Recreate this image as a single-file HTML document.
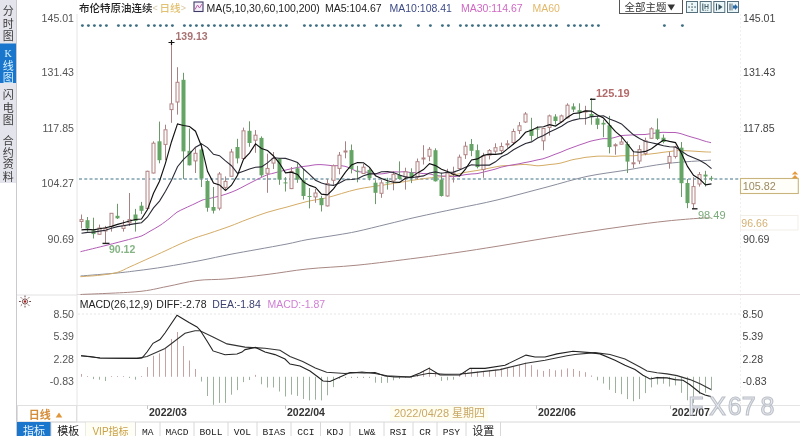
<!DOCTYPE html>
<html><head><meta charset="utf-8"><title>布伦特原油连续 日线</title>
<style>
html,body{margin:0;padding:0;background:#fff;}
body{width:800px;height:436px;overflow:hidden;}
svg{display:block;}
</style></head><body>
<svg width="800" height="436" viewBox="0 0 800 436" font-family='"Liberation Sans", "Noto Sans CJK SC", sans-serif'>
<rect x="0" y="0" width="800" height="436" fill="#ffffff"/>
<rect x="0" y="0" width="16.5" height="183" fill="#e4e4ec"/>
<rect x="0" y="43.5" width="16" height="39.5" fill="#1a76cc"/>
<line x1="16.5" y1="0" x2="16.5" y2="436" stroke="#c9c9cf" stroke-width="1"/>
<text x="8.2" y="15.3" font-size="11" fill="#3a3a3a" text-anchor="middle" font-family='"Liberation Sans", "Noto Sans CJK SC", sans-serif'>分</text>
<text x="8.2" y="27.6" font-size="11" fill="#3a3a3a" text-anchor="middle" font-family='"Liberation Sans", "Noto Sans CJK SC", sans-serif'>时</text>
<text x="8.2" y="39.6" font-size="11" fill="#3a3a3a" text-anchor="middle" font-family='"Liberation Sans", "Noto Sans CJK SC", sans-serif'>图</text>
<text x="8.2" y="56.6" font-size="10" fill="#d8f4ff" text-anchor="middle" font-family='"Liberation Serif", serif'>K</text>
<text x="8.2" y="69.6" font-size="11" fill="#d8f4ff" text-anchor="middle" font-family='"Liberation Sans", "Noto Sans CJK SC", sans-serif'>线</text>
<text x="8.2" y="81.6" font-size="11" fill="#d8f4ff" text-anchor="middle" font-family='"Liberation Sans", "Noto Sans CJK SC", sans-serif'>图</text>
<text x="8.2" y="99.4" font-size="11" fill="#3a3a3a" text-anchor="middle" font-family='"Liberation Sans", "Noto Sans CJK SC", sans-serif'>闪</text>
<text x="8.2" y="111.8" font-size="11" fill="#3a3a3a" text-anchor="middle" font-family='"Liberation Sans", "Noto Sans CJK SC", sans-serif'>电</text>
<text x="8.2" y="124.2" font-size="11" fill="#3a3a3a" text-anchor="middle" font-family='"Liberation Sans", "Noto Sans CJK SC", sans-serif'>图</text>
<text x="8.2" y="145" font-size="11" fill="#3a3a3a" text-anchor="middle" font-family='"Liberation Sans", "Noto Sans CJK SC", sans-serif'>合</text>
<text x="8.2" y="156.7" font-size="11" fill="#3a3a3a" text-anchor="middle" font-family='"Liberation Sans", "Noto Sans CJK SC", sans-serif'>约</text>
<text x="8.2" y="168.4" font-size="11" fill="#3a3a3a" text-anchor="middle" font-family='"Liberation Sans", "Noto Sans CJK SC", sans-serif'>资</text>
<text x="8.2" y="180.6" font-size="11" fill="#3a3a3a" text-anchor="middle" font-family='"Liberation Sans", "Noto Sans CJK SC", sans-serif'>料</text>
<line x1="77" y1="14" x2="77" y2="422" stroke="#e6e6e6" stroke-width="1"/>
<line x1="740.5" y1="14" x2="740.5" y2="405" stroke="#f0f0f0" stroke-width="1" stroke-dasharray="2,2"/>
<line x1="17" y1="295" x2="77" y2="295" stroke="#e2e2e2" stroke-width="1"/>
<line x1="77" y1="294.5" x2="800" y2="294.5" stroke="#e0dada" stroke-width="1"/>
<line x1="78" y1="314" x2="740" y2="314" stroke="#e6e6e6" stroke-width="1" stroke-dasharray="2,2"/>
<line x1="17" y1="405.5" x2="800" y2="405.5" stroke="#e4e4e4" stroke-width="1"/>
<text x="79" y="11.8" font-size="10.5" font-weight="500" fill="#222" font-family='"Liberation Sans", "Noto Sans CJK SC", sans-serif'>布伦特原油连续</text>
<text x="152.5" y="11.3" font-size="9" fill="#d8c8a0" font-family='"Liberation Sans", "Noto Sans CJK SC", sans-serif'>&lt;</text>
<text x="159.5" y="11.8" font-size="10.5" font-weight="500" fill="#e2c272" font-family='"Liberation Sans", "Noto Sans CJK SC", sans-serif'>日线</text>
<text x="180.8" y="11.3" font-size="9" fill="#d8c8a0" font-family='"Liberation Sans", "Noto Sans CJK SC", sans-serif'>&gt;</text>
<rect x="194" y="2" width="9" height="9.5" fill="#f4eef8" stroke="#3e3a66" stroke-width="1.1"/>
<polyline points="195,9.5 197.5,5 199.5,8 202,4" fill="none" stroke="#c060a8" stroke-width="1"/>
<text x="206.5" y="11.6" font-size="10.5" fill="#222" font-family='"Liberation Sans", "Noto Sans CJK SC", sans-serif'>MA(5,10,30,60,100,200)</text>
<text x="325" y="11.6" font-size="10.5" fill="#222" font-family='"Liberation Sans", "Noto Sans CJK SC", sans-serif'>MA5:104.67</text>
<text x="389.5" y="11.6" font-size="10.5" fill="#3c4a86" font-family='"Liberation Sans", "Noto Sans CJK SC", sans-serif'>MA10:108.41</text>
<text x="461" y="11.6" font-size="10.5" fill="#d068c4" font-family='"Liberation Sans", "Noto Sans CJK SC", sans-serif'>MA30:114.67</text>
<text x="532.5" y="11.6" font-size="10.5" fill="#e2b86a" font-family='"Liberation Sans", "Noto Sans CJK SC", sans-serif'>MA60</text>
<rect x="619.5" y="-0.5" width="63" height="14" fill="#fff" stroke="#555" stroke-width="1"/>
<text x="624.5" y="11.3" font-size="10.5" fill="#333" font-family='"Liberation Sans", "Noto Sans CJK SC", sans-serif'>全部主题</text>
<polygon points="667.5,4.5 675,4.5 671.25,10.5" fill="#333"/>
<rect x="686.5" y="1.5" width="11" height="11" fill="#eaf6f8" stroke="#55707c" stroke-width="1"/>
<rect x="700.2" y="1.5" width="11" height="11" fill="#eaf6f8" stroke="#55707c" stroke-width="1"/>
<rect x="713.8" y="1.5" width="11" height="11" fill="#eaf6f8" stroke="#55707c" stroke-width="1"/>
<rect x="727.5" y="1.5" width="11" height="11" fill="#eaf6f8" stroke="#55707c" stroke-width="1"/>
<rect x="691.4" y="3.4" width="1.3" height="1.3" fill="#3a4a55"/>
<rect x="691.4" y="9.4" width="1.3" height="1.3" fill="#3a4a55"/>
<rect x="688.4" y="6.4" width="1.3" height="1.3" fill="#3a4a55"/>
<rect x="694.4" y="6.4" width="1.3" height="1.3" fill="#3a4a55"/>
<rect x="691.4" y="6.4" width="1.3" height="1.3" fill="#3a4a55"/>
<line x1="702.8" y1="3.5" x2="702.8" y2="10.5" stroke="#3a5560" stroke-width="1"/>
<path d="M705,4 v5 M708,4 v5 M705,6.5 h3" stroke="#3a5560" stroke-width="0.9" fill="none"/>
<line x1="702.8" y1="10.3" x2="709" y2="10.3" stroke="#3a5560" stroke-width="0.8" stroke-dasharray="1,1"/>
<line x1="716.5" y1="3.5" x2="716.5" y2="10.5" stroke="#3a5560" stroke-width="1"/>
<polygon points="718.5,4 722.5,7 718.5,10" fill="#3a5560"/>
<line x1="730" y1="3.5" x2="730" y2="10.5" stroke="#3a5560" stroke-width="1"/>
<line x1="732" y1="3.5" x2="732" y2="10.5" stroke="#3a5560" stroke-width="0.8"/>
<polygon points="733,5.5 735,5.5 735,4 738,7 735,10 735,8.5 733,8.5" fill="#2a6aa8"/>
<text x="74" y="21.5" font-size="10.6" fill="#555" text-anchor="end">145.01</text>
<text x="74" y="76.4" font-size="10.6" fill="#555" text-anchor="end">131.43</text>
<text x="74" y="131.8" font-size="10.6" fill="#555" text-anchor="end">117.85</text>
<text x="74" y="187.1" font-size="10.6" fill="#555" text-anchor="end">104.27</text>
<text x="74" y="242.6" font-size="10.6" fill="#555" text-anchor="end">90.69</text>
<text x="743" y="21.5" font-size="10.6" fill="#444">145.01</text>
<text x="743" y="76.4" font-size="10.6" fill="#444">131.43</text>
<text x="743" y="131.8" font-size="10.6" fill="#444">117.85</text>
<text x="743" y="242.6" font-size="10.6" fill="#444">90.69</text>
<text x="74" y="317.8" font-size="10.6" fill="#555" text-anchor="end">8.50</text>
<text x="742.5" y="317.8" font-size="10.6" fill="#444">8.50</text>
<text x="74" y="340.2" font-size="10.6" fill="#555" text-anchor="end">5.39</text>
<text x="742.5" y="340.2" font-size="10.6" fill="#444">5.39</text>
<text x="74" y="362.7" font-size="10.6" fill="#555" text-anchor="end">2.28</text>
<text x="742.5" y="362.7" font-size="10.6" fill="#444">2.28</text>
<text x="74" y="385.3" font-size="10.6" fill="#555" text-anchor="end">-0.83</text>
<text x="742.5" y="385.3" font-size="10.6" fill="#444">-0.83</text>
<line x1="79" y1="179" x2="740" y2="179" stroke="#7fa3b0" stroke-width="1.7" stroke-dasharray="3,2.25"/>
<rect x="740.5" y="178.5" width="57.8" height="15" fill="#fffef8" stroke="#c8b47c" stroke-width="1.1"/>
<text x="742.8" y="190" font-size="10.8" fill="#9c8a62">105.82</text>
<path d="M791.8,174.5 l3.2,-3.2 l3.2,3.2 z M791.8,178.2 l3.2,-3.2 l3.2,3.2 z" fill="#e49a3a"/>
<rect x="740.5" y="215.5" width="57.5" height="14.5" fill="#fff" stroke="#f2efe8" stroke-width="1"/>
<text x="741.3" y="226.8" font-size="10.6" fill="#d4b274">96.66</text>
<circle cx="82.4" cy="25.6" r="1.45" fill="#3f6f82"/>
<circle cx="88.4" cy="25.6" r="1.45" fill="#3f6f82"/>
<circle cx="94.4" cy="25.6" r="1.45" fill="#3f6f82"/>
<circle cx="100.4" cy="25.6" r="1.45" fill="#3f6f82"/>
<circle cx="106.4" cy="25.6" r="1.45" fill="#3f6f82"/>
<circle cx="118.4" cy="25.6" r="1.45" fill="#3f6f82"/>
<circle cx="124.4" cy="25.6" r="1.45" fill="#3f6f82"/>
<circle cx="130.4" cy="25.6" r="1.45" fill="#3f6f82"/>
<circle cx="136.4" cy="25.6" r="1.45" fill="#3f6f82"/>
<circle cx="148.4" cy="25.6" r="1.45" fill="#3f6f82"/>
<circle cx="154.4" cy="25.6" r="1.45" fill="#3f6f82"/>
<circle cx="160.4" cy="25.6" r="1.45" fill="#3f6f82"/>
<circle cx="166.4" cy="25.6" r="1.45" fill="#3f6f82"/>
<circle cx="172.4" cy="25.6" r="1.45" fill="#3f6f82"/>
<circle cx="184.4" cy="25.6" r="1.45" fill="#3f6f82"/>
<circle cx="190.4" cy="25.6" r="1.45" fill="#3f6f82"/>
<circle cx="196.4" cy="25.6" r="1.45" fill="#3f6f82"/>
<circle cx="202.4" cy="25.6" r="1.45" fill="#3f6f82"/>
<circle cx="208.4" cy="25.6" r="1.45" fill="#3f6f82"/>
<circle cx="214.4" cy="25.6" r="1.45" fill="#3f6f82"/>
<circle cx="220.4" cy="25.6" r="1.45" fill="#3f6f82"/>
<circle cx="226.4" cy="25.6" r="1.45" fill="#3f6f82"/>
<circle cx="232.4" cy="25.6" r="1.45" fill="#3f6f82"/>
<circle cx="238.4" cy="25.6" r="1.45" fill="#3f6f82"/>
<circle cx="244.4" cy="25.6" r="1.45" fill="#3f6f82"/>
<circle cx="250.4" cy="25.6" r="1.45" fill="#3f6f82"/>
<circle cx="256.4" cy="25.6" r="1.45" fill="#3f6f82"/>
<circle cx="262.4" cy="25.6" r="1.45" fill="#3f6f82"/>
<circle cx="268.4" cy="25.6" r="1.45" fill="#3f6f82"/>
<circle cx="274.4" cy="25.6" r="1.45" fill="#3f6f82"/>
<circle cx="280.4" cy="25.6" r="1.45" fill="#3f6f82"/>
<circle cx="286.4" cy="25.6" r="1.45" fill="#3f6f82"/>
<circle cx="304.4" cy="25.6" r="1.45" fill="#3f6f82"/>
<circle cx="310.4" cy="25.6" r="1.45" fill="#3f6f82"/>
<circle cx="316.4" cy="25.6" r="1.45" fill="#3f6f82"/>
<circle cx="322.4" cy="25.6" r="1.45" fill="#3f6f82"/>
<circle cx="328.4" cy="25.6" r="1.45" fill="#3f6f82"/>
<circle cx="334.4" cy="25.6" r="1.45" fill="#3f6f82"/>
<circle cx="340.4" cy="25.6" r="1.45" fill="#3f6f82"/>
<circle cx="346.4" cy="25.6" r="1.45" fill="#3f6f82"/>
<circle cx="352.4" cy="25.6" r="1.45" fill="#3f6f82"/>
<circle cx="358.4" cy="25.6" r="1.45" fill="#3f6f82"/>
<circle cx="364.4" cy="25.6" r="1.45" fill="#3f6f82"/>
<circle cx="376.4" cy="25.6" r="1.45" fill="#3f6f82"/>
<circle cx="382.4" cy="25.6" r="1.45" fill="#3f6f82"/>
<circle cx="388.4" cy="25.6" r="1.45" fill="#3f6f82"/>
<circle cx="394.4" cy="25.6" r="1.45" fill="#3f6f82"/>
<circle cx="400.4" cy="25.6" r="1.45" fill="#3f6f82"/>
<circle cx="418.4" cy="25.6" r="1.45" fill="#3f6f82"/>
<circle cx="430.4" cy="25.6" r="1.45" fill="#3f6f82"/>
<circle cx="442.4" cy="25.6" r="1.45" fill="#3f6f82"/>
<circle cx="448.4" cy="25.6" r="1.45" fill="#3f6f82"/>
<circle cx="460.4" cy="25.6" r="1.45" fill="#3f6f82"/>
<circle cx="466.4" cy="25.6" r="1.45" fill="#3f6f82"/>
<circle cx="472.4" cy="25.6" r="1.45" fill="#3f6f82"/>
<circle cx="478.4" cy="25.6" r="1.45" fill="#3f6f82"/>
<circle cx="484.4" cy="25.6" r="1.45" fill="#3f6f82"/>
<circle cx="490.4" cy="25.6" r="1.45" fill="#3f6f82"/>
<circle cx="496.4" cy="25.6" r="1.45" fill="#3f6f82"/>
<circle cx="502.4" cy="25.6" r="1.45" fill="#3f6f82"/>
<circle cx="508.4" cy="25.6" r="1.45" fill="#3f6f82"/>
<circle cx="514.4" cy="25.6" r="1.45" fill="#3f6f82"/>
<circle cx="520.4" cy="25.6" r="1.45" fill="#3f6f82"/>
<circle cx="526.4" cy="25.6" r="1.45" fill="#3f6f82"/>
<circle cx="532.4" cy="25.6" r="1.45" fill="#3f6f82"/>
<circle cx="538.4" cy="25.6" r="1.45" fill="#3f6f82"/>
<circle cx="544.4" cy="25.6" r="1.45" fill="#3f6f82"/>
<circle cx="550.4" cy="25.6" r="1.45" fill="#3f6f82"/>
<circle cx="556.4" cy="25.6" r="1.45" fill="#3f6f82"/>
<circle cx="568.4" cy="25.6" r="1.45" fill="#3f6f82"/>
<circle cx="574.4" cy="25.6" r="1.45" fill="#3f6f82"/>
<circle cx="580.4" cy="25.6" r="1.45" fill="#3f6f82"/>
<circle cx="586.4" cy="25.6" r="1.45" fill="#3f6f82"/>
<circle cx="592.4" cy="25.6" r="1.45" fill="#3f6f82"/>
<circle cx="598.4" cy="25.6" r="1.45" fill="#3f6f82"/>
<circle cx="664.4" cy="25.6" r="1.45" fill="#3f6f82"/>
<circle cx="682.4" cy="25.6" r="1.45" fill="#3f6f82"/>
<path d="M80.5,294.5 C89.9,294.0 122.6,293.0 137.0,291.7 C151.4,290.4 157.0,288.4 167.0,286.5 C177.0,284.6 187.0,281.8 197.0,280.5 C207.0,279.2 215.3,279.9 227.0,278.9 C238.7,277.9 253.7,276.1 267.0,274.5 C280.3,272.9 292.0,270.6 307.0,269.0 C322.0,267.4 338.7,267.0 357.0,265.2 C375.3,263.4 400.3,260.1 417.0,258.0 C433.7,255.9 443.7,254.4 457.0,252.5 C470.3,250.6 482.0,248.7 497.0,246.3 C512.0,243.9 532.0,240.4 547.0,238.0 C562.0,235.6 573.7,233.8 587.0,231.8 C600.3,229.8 613.7,227.8 627.0,226.0 C640.3,224.2 654.8,222.3 667.0,221.0 C679.2,219.7 692.7,218.7 700.0,218.2 C707.3,217.7 709.2,217.9 711.0,217.8" fill="none" stroke="#a88884" stroke-width="1"/>
<path d="M80.5,276.0 C86.6,275.5 107.6,273.9 117.0,273.0 C126.4,272.1 129.0,271.7 137.0,270.7 C145.0,269.7 154.5,268.5 165.0,266.8 C175.5,265.1 189.2,262.7 200.0,260.6 C210.8,258.5 220.5,256.2 230.0,254.4 C239.5,252.6 247.5,251.2 257.0,249.5 C266.5,247.8 278.7,245.6 287.0,244.0 C295.3,242.4 298.7,241.2 307.0,239.7 C315.3,238.2 328.7,236.4 337.0,235.0 C345.3,233.6 348.7,233.2 357.0,231.4 C365.3,229.6 377.0,226.6 387.0,224.2 C397.0,221.8 405.3,219.6 417.0,217.0 C428.7,214.4 443.7,211.3 457.0,208.5 C470.3,205.7 482.0,203.6 497.0,200.0 C512.0,196.4 532.0,190.9 547.0,187.0 C562.0,183.1 573.7,179.2 587.0,176.4 C600.3,173.6 613.7,172.2 627.0,170.0 C640.3,167.8 653.0,165.2 667.0,163.5 C681.0,161.8 703.7,160.7 711.0,160.1" fill="none" stroke="#8a8e9c" stroke-width="1"/>
<path d="M80.5,276.7 C83.8,276.4 93.9,275.9 100.0,275.2 C106.1,274.5 112.0,273.9 117.0,272.5 C122.0,271.1 124.5,269.2 130.0,266.8 C135.5,264.4 144.2,260.4 150.0,257.8 C155.8,255.2 160.0,253.3 165.0,251.0 C170.0,248.7 175.0,246.2 180.0,244.0 C185.0,241.8 190.0,239.7 195.0,237.9 C200.0,236.1 204.2,235.1 210.0,233.1 C215.8,231.1 223.8,228.5 230.0,226.2 C236.2,223.9 240.8,221.8 247.0,219.5 C253.2,217.2 260.3,214.5 267.0,212.4 C273.7,210.3 280.3,208.8 287.0,207.0 C293.7,205.2 300.3,203.1 307.0,201.5 C313.7,199.9 318.7,199.7 327.0,197.7 C335.3,195.7 347.0,191.5 357.0,189.3 C367.0,187.1 377.0,186.1 387.0,184.5 C397.0,182.9 409.0,180.8 417.0,179.6 C425.0,178.4 431.0,177.8 435.0,177.3 C439.0,176.9 439.0,177.1 441.0,176.9 C443.0,176.7 445.0,176.3 447.0,176.0 C449.0,175.7 451.0,175.3 453.0,175.0 C455.0,174.6 457.0,174.2 459.0,173.8 C461.0,173.4 463.0,172.8 465.0,172.4 C467.0,172.0 469.0,171.7 471.0,171.4 C473.0,171.1 475.0,170.9 477.0,170.5 C479.0,170.2 481.0,169.8 483.0,169.4 C485.0,169.0 487.0,168.6 489.0,168.2 C491.0,167.8 493.0,167.4 495.0,167.0 C497.0,166.6 499.0,166.2 501.0,165.9 C503.0,165.7 505.0,165.6 507.0,165.5 C509.0,165.4 511.0,165.4 513.0,165.3 C515.0,165.2 517.0,164.8 519.0,164.7 C521.0,164.6 523.0,164.4 525.0,164.4 C527.0,164.5 529.0,164.8 531.0,165.0 C533.0,165.2 535.0,165.7 537.0,165.8 C539.0,165.8 541.0,165.6 543.0,165.4 C545.0,165.2 547.0,164.8 549.0,164.6 C551.0,164.3 553.0,164.3 555.0,164.0 C557.0,163.8 559.0,163.4 561.0,163.0 C563.0,162.5 565.0,161.8 567.0,161.3 C569.0,160.7 571.0,160.0 573.0,159.6 C575.0,159.1 577.0,158.9 579.0,158.6 C581.0,158.2 583.0,157.7 585.0,157.4 C587.0,157.1 589.0,157.0 591.0,156.8 C593.0,156.6 595.0,156.4 597.0,156.2 C599.0,156.1 601.0,156.1 603.0,156.1 C605.0,156.1 607.0,156.2 609.0,156.2 C611.0,156.2 613.0,156.4 615.0,156.4 C617.0,156.3 619.0,155.9 621.0,155.8 C623.0,155.7 625.0,155.7 627.0,155.7 C629.0,155.7 631.0,155.8 633.0,155.8 C635.0,155.7 637.0,155.5 639.0,155.3 C641.0,155.1 643.0,154.8 645.0,154.6 C647.0,154.3 649.0,154.1 651.0,153.9 C653.0,153.6 655.0,153.4 657.0,153.2 C659.0,152.9 661.0,152.5 663.0,152.3 C665.0,152.0 667.0,151.8 669.0,151.6 C671.0,151.4 673.0,151.0 675.0,150.8 C677.0,150.7 679.0,150.5 681.0,150.5 C683.0,150.5 685.0,150.7 687.0,150.8 C689.0,150.9 691.0,151.0 693.0,151.1 C695.0,151.3 697.0,151.3 699.0,151.5 C701.0,151.6 703.0,151.8 705.0,151.9 C707.0,152.0 710.0,152.0 711.0,152.1" fill="none" stroke="#d4ac66" stroke-width="1"/>
<path d="M80.5,251.7 C84.9,250.6 99.2,247.1 107.0,245.2 C114.8,243.2 122.3,241.2 127.0,240.0 C131.7,238.8 132.5,238.5 135.0,237.8 C137.5,237.1 139.5,236.9 142.0,235.8 C144.5,234.7 147.0,232.9 150.0,231.2 C153.0,229.5 156.7,227.6 160.0,225.4 C163.3,223.2 167.2,220.2 170.0,218.0 C172.8,215.8 174.5,213.8 177.0,212.2 C179.5,210.6 182.0,209.6 185.0,208.2 C188.0,206.8 192.2,204.9 195.0,203.6 C197.8,202.3 200.0,201.0 202.0,200.2 C204.0,199.4 204.5,199.6 207.0,199.0 C209.5,198.4 213.7,197.6 217.0,196.7 C220.3,195.8 223.7,195.0 227.0,193.8 C230.3,192.7 233.7,191.3 237.0,189.8 C240.3,188.3 243.7,186.3 247.0,184.6 C250.3,182.9 253.7,181.1 257.0,179.5 C260.3,177.9 264.3,175.9 267.0,174.9 C269.7,173.9 271.0,173.8 273.0,173.3 C275.0,172.8 277.0,172.2 279.0,171.7 C281.0,171.2 283.0,170.7 285.0,170.2 C287.0,169.7 289.0,169.2 291.0,168.8 C293.0,168.3 295.0,167.9 297.0,167.5 C299.0,167.1 301.0,166.8 303.0,166.5 C305.0,166.2 307.0,166.0 309.0,165.8 C311.0,165.5 313.0,165.0 315.0,164.8 C317.0,164.6 319.0,164.6 321.0,164.6 C323.0,164.7 325.0,164.9 327.0,165.1 C329.0,165.2 331.0,165.7 333.0,165.8 C335.0,165.9 337.0,165.5 339.0,165.6 C341.0,165.7 343.0,165.9 345.0,166.3 C347.0,166.8 349.0,167.7 351.0,168.5 C353.0,169.4 355.0,170.9 357.0,171.5 C359.0,172.1 361.0,171.8 363.0,172.0 C365.0,172.2 367.0,172.1 369.0,172.4 C371.0,172.7 373.0,173.5 375.0,173.8 C377.0,174.0 379.0,174.0 381.0,173.9 C383.0,173.8 385.0,173.4 387.0,173.1 C389.0,172.7 391.0,172.0 393.0,171.9 C395.0,171.7 397.0,172.0 399.0,172.0 C401.0,172.0 403.0,171.6 405.0,171.7 C407.0,171.8 409.0,172.4 411.0,172.6 C413.0,172.7 415.0,172.5 417.0,172.7 C419.0,172.8 421.0,173.4 423.0,173.6 C425.0,173.8 427.0,173.5 429.0,173.8 C431.0,174.1 433.0,174.9 435.0,175.3 C437.0,175.7 439.0,175.9 441.0,176.0 C443.0,176.1 445.0,176.1 447.0,176.2 C449.0,176.3 451.0,176.7 453.0,176.7 C455.0,176.6 457.0,176.2 459.0,175.9 C461.0,175.6 463.0,175.0 465.0,174.7 C467.0,174.4 469.0,174.2 471.0,174.0 C473.0,173.8 475.0,173.9 477.0,173.6 C479.0,173.3 481.0,172.7 483.0,172.2 C485.0,171.8 487.0,171.2 489.0,170.7 C491.0,170.2 493.0,169.8 495.0,169.2 C497.0,168.6 499.0,167.8 501.0,167.2 C503.0,166.7 505.0,166.3 507.0,165.9 C509.0,165.5 511.0,165.1 513.0,164.8 C515.0,164.4 517.0,164.1 519.0,163.8 C521.0,163.4 523.0,162.9 525.0,162.5 C527.0,162.2 529.0,161.9 531.0,161.4 C533.0,161.0 535.0,160.5 537.0,160.0 C539.0,159.6 541.0,159.3 543.0,158.8 C545.0,158.2 547.0,157.4 549.0,156.7 C551.0,155.9 553.0,155.1 555.0,154.3 C557.0,153.5 559.0,152.9 561.0,152.1 C563.0,151.2 565.0,150.3 567.0,149.5 C569.0,148.7 571.0,148.0 573.0,147.3 C575.0,146.6 577.0,145.8 579.0,145.1 C581.0,144.4 583.0,143.7 585.0,143.1 C587.0,142.4 589.0,141.6 591.0,141.1 C593.0,140.5 595.0,140.2 597.0,139.8 C599.0,139.4 601.0,138.9 603.0,138.7 C605.0,138.5 607.0,138.9 609.0,138.6 C611.0,138.4 613.0,137.9 615.0,137.4 C617.0,136.9 619.0,136.0 621.0,135.6 C623.0,135.3 625.0,135.4 627.0,135.2 C629.0,135.1 631.0,135.0 633.0,134.9 C635.0,134.8 637.0,134.7 639.0,134.6 C641.0,134.6 643.0,134.6 645.0,134.5 C647.0,134.3 649.0,134.0 651.0,133.7 C653.0,133.5 655.0,133.0 657.0,132.8 C659.0,132.6 661.0,132.4 663.0,132.3 C665.0,132.3 667.0,132.5 669.0,132.5 C671.0,132.6 673.0,132.3 675.0,132.5 C677.0,132.7 679.0,133.2 681.0,133.7 C683.0,134.3 685.0,135.1 687.0,135.7 C689.0,136.3 691.0,137.0 693.0,137.5 C695.0,138.1 697.0,138.5 699.0,139.2 C701.0,139.8 703.0,140.7 705.0,141.2 C707.0,141.8 710.0,142.4 711.0,142.7" fill="none" stroke="#b25cb6" stroke-width="1"/>
<line x1="81.5" y1="214.5" x2="81.5" y2="219.6" stroke="#a88282" stroke-width="1"/>
<line x1="81.5" y1="221.5" x2="81.5" y2="228.4" stroke="#a88282" stroke-width="1"/>
<rect x="80" y="219.6" width="3" height="1.9" fill="#fffafa" stroke="#b08282" stroke-width="1"/>
<line x1="87.5" y1="217.0" x2="87.5" y2="231.6" stroke="#6a9a6a" stroke-width="1"/>
<rect x="85.5" y="220.2" width="4" height="8.2" fill="#64a464"/>
<line x1="93.5" y1="217.7" x2="93.5" y2="238.5" stroke="#6a9a6a" stroke-width="1"/>
<rect x="91.5" y="230.3" width="4" height="3.8" fill="#64a464"/>
<line x1="99.5" y1="224.6" x2="99.5" y2="228.0" stroke="#a88282" stroke-width="1"/>
<line x1="99.5" y1="234.3" x2="99.5" y2="234.7" stroke="#a88282" stroke-width="1"/>
<rect x="98" y="228.0" width="3" height="6.3" fill="#fffafa" stroke="#b08282" stroke-width="1"/>
<line x1="105.5" y1="225.9" x2="105.5" y2="228.4" stroke="#a88282" stroke-width="1"/>
<line x1="105.5" y1="231.0" x2="105.5" y2="243.5" stroke="#a88282" stroke-width="1"/>
<rect x="104" y="228.4" width="3" height="2.6" fill="#fffafa" stroke="#b08282" stroke-width="1"/>
<line x1="111.5" y1="213.3" x2="111.5" y2="213.3" stroke="#a88282" stroke-width="1"/>
<line x1="111.5" y1="226.5" x2="111.5" y2="231.6" stroke="#a88282" stroke-width="1"/>
<rect x="110" y="213.3" width="3" height="13.2" fill="#fffafa" stroke="#b08282" stroke-width="1"/>
<line x1="117.5" y1="203.8" x2="117.5" y2="219.0" stroke="#6a9a6a" stroke-width="1"/>
<rect x="115.5" y="215.8" width="4" height="2.5" fill="#64a464"/>
<line x1="123.5" y1="220.2" x2="123.5" y2="225.3" stroke="#a88282" stroke-width="1"/>
<line x1="123.5" y1="228.4" x2="123.5" y2="231.6" stroke="#a88282" stroke-width="1"/>
<rect x="122" y="225.3" width="3" height="3.1" fill="#fffafa" stroke="#b08282" stroke-width="1"/>
<line x1="129.5" y1="193.0" x2="129.5" y2="219.6" stroke="#a88282" stroke-width="1"/>
<line x1="129.5" y1="222.7" x2="129.5" y2="226.0" stroke="#a88282" stroke-width="1"/>
<rect x="128" y="219.6" width="3" height="3.1" fill="#fffafa" stroke="#b08282" stroke-width="1"/>
<line x1="135.5" y1="208.9" x2="135.5" y2="231.6" stroke="#6a9a6a" stroke-width="1"/>
<rect x="133.5" y="214.5" width="4" height="6.4" fill="#64a464"/>
<line x1="141.5" y1="201.9" x2="141.5" y2="213.9" stroke="#6a9a6a" stroke-width="1"/>
<rect x="139.5" y="205.7" width="4" height="5.1" fill="#64a464"/>
<line x1="147.5" y1="170.7" x2="147.5" y2="171.3" stroke="#a88282" stroke-width="1"/>
<line x1="147.5" y1="208.5" x2="147.5" y2="209.2" stroke="#a88282" stroke-width="1"/>
<rect x="146" y="171.3" width="3" height="37.2" fill="#fffafa" stroke="#b08282" stroke-width="1"/>
<line x1="153.5" y1="141.3" x2="153.5" y2="143.2" stroke="#a88282" stroke-width="1"/>
<line x1="153.5" y1="173.0" x2="153.5" y2="173.4" stroke="#a88282" stroke-width="1"/>
<rect x="152" y="143.2" width="3" height="29.8" fill="#fffafa" stroke="#b08282" stroke-width="1"/>
<line x1="159.5" y1="121.6" x2="159.5" y2="163.3" stroke="#6a9a6a" stroke-width="1"/>
<rect x="157.5" y="141.3" width="4" height="18.9" fill="#64a464"/>
<line x1="165.5" y1="124.7" x2="165.5" y2="129.8" stroke="#a88282" stroke-width="1"/>
<line x1="165.5" y1="144.4" x2="165.5" y2="160.2" stroke="#a88282" stroke-width="1"/>
<rect x="164" y="129.8" width="3" height="14.6" fill="#fffafa" stroke="#b08282" stroke-width="1"/>
<line x1="171.5" y1="42.3" x2="171.5" y2="103.9" stroke="#a88282" stroke-width="1"/>
<line x1="171.5" y1="109.6" x2="171.5" y2="122.8" stroke="#a88282" stroke-width="1"/>
<rect x="170" y="103.9" width="3" height="5.7" fill="#fffafa" stroke="#b08282" stroke-width="1"/>
<line x1="177.5" y1="67.2" x2="177.5" y2="82.3" stroke="#a88282" stroke-width="1"/>
<line x1="177.5" y1="102.0" x2="177.5" y2="114.6" stroke="#a88282" stroke-width="1"/>
<rect x="176" y="82.3" width="3" height="19.7" fill="#fffafa" stroke="#b08282" stroke-width="1"/>
<line x1="183.5" y1="72.8" x2="183.5" y2="178.9" stroke="#6a9a6a" stroke-width="1"/>
<rect x="181.5" y="79.8" width="4" height="71.6" fill="#64a464"/>
<line x1="189.5" y1="128.5" x2="189.5" y2="165.5" stroke="#6a9a6a" stroke-width="1"/>
<rect x="187.5" y="150.8" width="4" height="14.5" fill="#64a464"/>
<line x1="195.5" y1="147.7" x2="195.5" y2="153.3" stroke="#a88282" stroke-width="1"/>
<line x1="195.5" y1="160.9" x2="195.5" y2="173.0" stroke="#a88282" stroke-width="1"/>
<rect x="194" y="153.3" width="3" height="7.6" fill="#fffafa" stroke="#b08282" stroke-width="1"/>
<line x1="201.5" y1="143.2" x2="201.5" y2="187.0" stroke="#6a9a6a" stroke-width="1"/>
<rect x="199.5" y="149.5" width="4" height="29.0" fill="#64a464"/>
<line x1="207.5" y1="180.0" x2="207.5" y2="211.7" stroke="#6a9a6a" stroke-width="1"/>
<rect x="205.5" y="181.0" width="4" height="26.8" fill="#64a464"/>
<line x1="213.5" y1="187.0" x2="213.5" y2="213.5" stroke="#6a9a6a" stroke-width="1"/>
<rect x="211.5" y="207.0" width="4" height="3.7" fill="#64a464"/>
<line x1="219.5" y1="172.0" x2="219.5" y2="174.0" stroke="#a88282" stroke-width="1"/>
<line x1="219.5" y1="208.2" x2="219.5" y2="210.4" stroke="#a88282" stroke-width="1"/>
<rect x="218" y="174.0" width="3" height="34.2" fill="#fffafa" stroke="#b08282" stroke-width="1"/>
<line x1="225.5" y1="176.4" x2="225.5" y2="181.4" stroke="#a88282" stroke-width="1"/>
<line x1="225.5" y1="187.4" x2="225.5" y2="189.6" stroke="#a88282" stroke-width="1"/>
<rect x="224" y="181.4" width="3" height="6.0" fill="#fffafa" stroke="#b08282" stroke-width="1"/>
<line x1="231.5" y1="148.9" x2="231.5" y2="152.0" stroke="#a88282" stroke-width="1"/>
<line x1="231.5" y1="176.3" x2="231.5" y2="176.4" stroke="#a88282" stroke-width="1"/>
<rect x="230" y="152.0" width="3" height="24.3" fill="#fffafa" stroke="#b08282" stroke-width="1"/>
<line x1="237.5" y1="138.8" x2="237.5" y2="163.4" stroke="#6a9a6a" stroke-width="1"/>
<rect x="235.5" y="147.0" width="4" height="11.4" fill="#64a464"/>
<line x1="243.5" y1="127.6" x2="243.5" y2="130.8" stroke="#a88282" stroke-width="1"/>
<line x1="243.5" y1="158.5" x2="243.5" y2="158.5" stroke="#a88282" stroke-width="1"/>
<rect x="242" y="130.8" width="3" height="27.7" fill="#fffafa" stroke="#b08282" stroke-width="1"/>
<line x1="249.5" y1="121.3" x2="249.5" y2="146.8" stroke="#6a9a6a" stroke-width="1"/>
<rect x="247.5" y="130.8" width="4" height="12.2" fill="#64a464"/>
<line x1="255.5" y1="130.1" x2="255.5" y2="135.2" stroke="#a88282" stroke-width="1"/>
<line x1="255.5" y1="140.2" x2="255.5" y2="152.8" stroke="#a88282" stroke-width="1"/>
<rect x="254" y="135.2" width="3" height="5.0" fill="#fffafa" stroke="#b08282" stroke-width="1"/>
<line x1="261.5" y1="136.4" x2="261.5" y2="177.0" stroke="#6a9a6a" stroke-width="1"/>
<rect x="259.5" y="137.9" width="4" height="37.4" fill="#64a464"/>
<line x1="267.5" y1="153.7" x2="267.5" y2="168.4" stroke="#a88282" stroke-width="1"/>
<line x1="267.5" y1="173.3" x2="267.5" y2="192.8" stroke="#a88282" stroke-width="1"/>
<rect x="266" y="168.4" width="3" height="4.9" fill="#fffafa" stroke="#b08282" stroke-width="1"/>
<line x1="273.5" y1="152.0" x2="273.5" y2="158.3" stroke="#a88282" stroke-width="1"/>
<line x1="273.5" y1="163.1" x2="273.5" y2="169.0" stroke="#a88282" stroke-width="1"/>
<rect x="272" y="158.3" width="3" height="4.8" fill="#fffafa" stroke="#b08282" stroke-width="1"/>
<line x1="279.5" y1="158.2" x2="279.5" y2="184.8" stroke="#6a9a6a" stroke-width="1"/>
<rect x="277.5" y="158.5" width="4" height="21.0" fill="#64a464"/>
<line x1="285.5" y1="177.1" x2="285.5" y2="191.5" stroke="#6a9a6a" stroke-width="1"/>
<rect x="283.5" y="182.4" width="4" height="1.0" fill="#64a464"/>
<line x1="291.5" y1="167.0" x2="291.5" y2="171.4" stroke="#a88282" stroke-width="1"/>
<line x1="291.5" y1="188.6" x2="291.5" y2="189.1" stroke="#a88282" stroke-width="1"/>
<rect x="290" y="171.4" width="3" height="17.2" fill="#fffafa" stroke="#b08282" stroke-width="1"/>
<line x1="297.5" y1="163.2" x2="297.5" y2="182.8" stroke="#6a9a6a" stroke-width="1"/>
<rect x="295.5" y="168.3" width="4" height="11.3" fill="#64a464"/>
<line x1="303.5" y1="168.9" x2="303.5" y2="199.6" stroke="#6a9a6a" stroke-width="1"/>
<rect x="301.5" y="180.3" width="4" height="15.7" fill="#64a464"/>
<line x1="309.5" y1="188.0" x2="309.5" y2="208.4" stroke="#6a9a6a" stroke-width="1"/>
<rect x="307.5" y="196.0" width="4" height="1.0" fill="#64a464"/>
<line x1="315.5" y1="188.9" x2="315.5" y2="193.0" stroke="#a88282" stroke-width="1"/>
<line x1="315.5" y1="196.9" x2="315.5" y2="202.8" stroke="#a88282" stroke-width="1"/>
<rect x="314" y="193.0" width="3" height="3.9" fill="#fffafa" stroke="#b08282" stroke-width="1"/>
<line x1="321.5" y1="195.8" x2="321.5" y2="211.5" stroke="#6a9a6a" stroke-width="1"/>
<rect x="319.5" y="198.0" width="4" height="7.2" fill="#64a464"/>
<line x1="327.5" y1="179.0" x2="327.5" y2="183.6" stroke="#a88282" stroke-width="1"/>
<line x1="327.5" y1="205.9" x2="327.5" y2="206.5" stroke="#a88282" stroke-width="1"/>
<rect x="326" y="183.6" width="3" height="22.3" fill="#fffafa" stroke="#b08282" stroke-width="1"/>
<line x1="333.5" y1="164.5" x2="333.5" y2="165.8" stroke="#a88282" stroke-width="1"/>
<line x1="333.5" y1="180.3" x2="333.5" y2="184.8" stroke="#a88282" stroke-width="1"/>
<rect x="332" y="165.8" width="3" height="14.5" fill="#fffafa" stroke="#b08282" stroke-width="1"/>
<line x1="339.5" y1="152.0" x2="339.5" y2="155.2" stroke="#a88282" stroke-width="1"/>
<line x1="339.5" y1="168.4" x2="339.5" y2="174.3" stroke="#a88282" stroke-width="1"/>
<rect x="338" y="155.2" width="3" height="13.2" fill="#fffafa" stroke="#b08282" stroke-width="1"/>
<line x1="345.5" y1="141.3" x2="345.5" y2="151.0" stroke="#a88282" stroke-width="1"/>
<line x1="345.5" y1="151.8" x2="345.5" y2="158.3" stroke="#a88282" stroke-width="1"/>
<rect x="344" y="151.0" width="3" height="1.0" fill="#fffafa" stroke="#b08282" stroke-width="1"/>
<line x1="351.5" y1="144.5" x2="351.5" y2="173.4" stroke="#6a9a6a" stroke-width="1"/>
<rect x="349.5" y="150.1" width="4" height="18.9" fill="#64a464"/>
<line x1="357.5" y1="165.9" x2="357.5" y2="182.3" stroke="#6a9a6a" stroke-width="1"/>
<rect x="355.5" y="170.7" width="4" height="1.0" fill="#64a464"/>
<line x1="363.5" y1="164.0" x2="363.5" y2="167.2" stroke="#a88282" stroke-width="1"/>
<line x1="363.5" y1="173.5" x2="363.5" y2="174.0" stroke="#a88282" stroke-width="1"/>
<rect x="362" y="167.2" width="3" height="6.3" fill="#fffafa" stroke="#b08282" stroke-width="1"/>
<line x1="369.5" y1="168.4" x2="369.5" y2="180.4" stroke="#6a9a6a" stroke-width="1"/>
<rect x="367.5" y="169.9" width="4" height="8.2" fill="#64a464"/>
<line x1="375.5" y1="180.2" x2="375.5" y2="204.1" stroke="#6a9a6a" stroke-width="1"/>
<rect x="373.5" y="182.7" width="4" height="10.1" fill="#64a464"/>
<line x1="381.5" y1="179.5" x2="381.5" y2="182.9" stroke="#a88282" stroke-width="1"/>
<line x1="381.5" y1="193.3" x2="381.5" y2="197.8" stroke="#a88282" stroke-width="1"/>
<rect x="380" y="182.9" width="3" height="10.4" fill="#fffafa" stroke="#b08282" stroke-width="1"/>
<line x1="387.5" y1="177.8" x2="387.5" y2="189.6" stroke="#6a9a6a" stroke-width="1"/>
<rect x="385.5" y="182.3" width="4" height="1.0" fill="#64a464"/>
<line x1="393.5" y1="171.2" x2="393.5" y2="174.3" stroke="#a88282" stroke-width="1"/>
<line x1="393.5" y1="181.0" x2="393.5" y2="190.3" stroke="#a88282" stroke-width="1"/>
<rect x="392" y="174.3" width="3" height="6.7" fill="#fffafa" stroke="#b08282" stroke-width="1"/>
<line x1="399.5" y1="161.4" x2="399.5" y2="179.5" stroke="#6a9a6a" stroke-width="1"/>
<rect x="397.5" y="175.0" width="4" height="4.0" fill="#64a464"/>
<line x1="405.5" y1="167.7" x2="405.5" y2="171.8" stroke="#a88282" stroke-width="1"/>
<line x1="405.5" y1="176.8" x2="405.5" y2="189.6" stroke="#a88282" stroke-width="1"/>
<rect x="404" y="171.8" width="3" height="5.0" fill="#fffafa" stroke="#b08282" stroke-width="1"/>
<line x1="411.5" y1="168.3" x2="411.5" y2="183.1" stroke="#6a9a6a" stroke-width="1"/>
<rect x="409.5" y="172.4" width="4" height="5.1" fill="#64a464"/>
<line x1="417.5" y1="158.5" x2="417.5" y2="161.7" stroke="#a88282" stroke-width="1"/>
<line x1="417.5" y1="177.2" x2="417.5" y2="179.3" stroke="#a88282" stroke-width="1"/>
<rect x="416" y="161.7" width="3" height="15.5" fill="#fffafa" stroke="#b08282" stroke-width="1"/>
<line x1="423.5" y1="145.2" x2="423.5" y2="158.0" stroke="#a88282" stroke-width="1"/>
<line x1="423.5" y1="158.8" x2="423.5" y2="164.5" stroke="#a88282" stroke-width="1"/>
<rect x="422" y="158.0" width="3" height="1.0" fill="#fffafa" stroke="#b08282" stroke-width="1"/>
<line x1="429.5" y1="147.1" x2="429.5" y2="149.3" stroke="#a88282" stroke-width="1"/>
<line x1="429.5" y1="156.2" x2="429.5" y2="161.2" stroke="#a88282" stroke-width="1"/>
<rect x="428" y="149.3" width="3" height="6.9" fill="#fffafa" stroke="#b08282" stroke-width="1"/>
<line x1="435.5" y1="148.3" x2="435.5" y2="181.5" stroke="#6a9a6a" stroke-width="1"/>
<rect x="433.5" y="150.2" width="4" height="31.1" fill="#64a464"/>
<line x1="441.5" y1="172.6" x2="441.5" y2="196.6" stroke="#6a9a6a" stroke-width="1"/>
<rect x="439.5" y="179.6" width="4" height="16.4" fill="#64a464"/>
<line x1="447.5" y1="168.8" x2="447.5" y2="173.0" stroke="#a88282" stroke-width="1"/>
<line x1="447.5" y1="196.0" x2="447.5" y2="196.6" stroke="#a88282" stroke-width="1"/>
<rect x="446" y="173.0" width="3" height="23.0" fill="#fffafa" stroke="#b08282" stroke-width="1"/>
<line x1="453.5" y1="166.7" x2="453.5" y2="173.0" stroke="#a88282" stroke-width="1"/>
<line x1="453.5" y1="174.0" x2="453.5" y2="182.5" stroke="#a88282" stroke-width="1"/>
<rect x="452" y="173.0" width="3" height="1.0" fill="#fffafa" stroke="#b08282" stroke-width="1"/>
<line x1="459.5" y1="154.6" x2="459.5" y2="157.2" stroke="#a88282" stroke-width="1"/>
<line x1="459.5" y1="168.6" x2="459.5" y2="169.7" stroke="#a88282" stroke-width="1"/>
<rect x="458" y="157.2" width="3" height="11.4" fill="#fffafa" stroke="#b08282" stroke-width="1"/>
<line x1="465.5" y1="141.7" x2="465.5" y2="146.2" stroke="#a88282" stroke-width="1"/>
<line x1="465.5" y1="154.7" x2="465.5" y2="158.9" stroke="#a88282" stroke-width="1"/>
<rect x="464" y="146.2" width="3" height="8.5" fill="#fffafa" stroke="#b08282" stroke-width="1"/>
<line x1="471.5" y1="139.0" x2="471.5" y2="156.2" stroke="#6a9a6a" stroke-width="1"/>
<rect x="469.5" y="144.0" width="4" height="6.8" fill="#64a464"/>
<line x1="477.5" y1="144.5" x2="477.5" y2="168.4" stroke="#6a9a6a" stroke-width="1"/>
<rect x="475.5" y="150.2" width="4" height="16.9" fill="#64a464"/>
<line x1="483.5" y1="152.8" x2="483.5" y2="155.9" stroke="#a88282" stroke-width="1"/>
<line x1="483.5" y1="169.6" x2="483.5" y2="177.8" stroke="#a88282" stroke-width="1"/>
<rect x="482" y="155.9" width="3" height="13.7" fill="#fffafa" stroke="#b08282" stroke-width="1"/>
<line x1="489.5" y1="149.0" x2="489.5" y2="150.6" stroke="#a88282" stroke-width="1"/>
<line x1="489.5" y1="155.2" x2="489.5" y2="159.4" stroke="#a88282" stroke-width="1"/>
<rect x="488" y="150.6" width="3" height="4.6" fill="#fffafa" stroke="#b08282" stroke-width="1"/>
<line x1="495.5" y1="143.3" x2="495.5" y2="147.7" stroke="#a88282" stroke-width="1"/>
<line x1="495.5" y1="151.2" x2="495.5" y2="153.7" stroke="#a88282" stroke-width="1"/>
<rect x="494" y="147.7" width="3" height="3.5" fill="#fffafa" stroke="#b08282" stroke-width="1"/>
<line x1="501.5" y1="142.6" x2="501.5" y2="146.5" stroke="#a88282" stroke-width="1"/>
<line x1="501.5" y1="150.6" x2="501.5" y2="153.0" stroke="#a88282" stroke-width="1"/>
<rect x="500" y="146.5" width="3" height="4.1" fill="#fffafa" stroke="#b08282" stroke-width="1"/>
<line x1="507.5" y1="140.2" x2="507.5" y2="143.8" stroke="#a88282" stroke-width="1"/>
<line x1="507.5" y1="144.5" x2="507.5" y2="147.7" stroke="#a88282" stroke-width="1"/>
<rect x="506" y="143.8" width="3" height="1.0" fill="#fffafa" stroke="#b08282" stroke-width="1"/>
<line x1="513.5" y1="128.7" x2="513.5" y2="131.5" stroke="#a88282" stroke-width="1"/>
<line x1="513.5" y1="142.5" x2="513.5" y2="145.0" stroke="#a88282" stroke-width="1"/>
<rect x="512" y="131.5" width="3" height="11.0" fill="#fffafa" stroke="#b08282" stroke-width="1"/>
<line x1="519.5" y1="122.0" x2="519.5" y2="125.8" stroke="#a88282" stroke-width="1"/>
<line x1="519.5" y1="130.6" x2="519.5" y2="134.0" stroke="#a88282" stroke-width="1"/>
<rect x="518" y="125.8" width="3" height="4.8" fill="#fffafa" stroke="#b08282" stroke-width="1"/>
<line x1="525.5" y1="112.1" x2="525.5" y2="114.0" stroke="#a88282" stroke-width="1"/>
<line x1="525.5" y1="122.0" x2="525.5" y2="122.8" stroke="#a88282" stroke-width="1"/>
<rect x="524" y="114.0" width="3" height="8.0" fill="#fffafa" stroke="#b08282" stroke-width="1"/>
<line x1="531.5" y1="117.8" x2="531.5" y2="140.8" stroke="#6a9a6a" stroke-width="1"/>
<rect x="529.5" y="129.3" width="4" height="6.6" fill="#64a464"/>
<line x1="537.5" y1="126.2" x2="537.5" y2="137.7" stroke="#6a9a6a" stroke-width="1"/>
<rect x="535.5" y="128.5" width="4" height="1.0" fill="#64a464"/>
<line x1="543.5" y1="128.2" x2="543.5" y2="128.4" stroke="#a88282" stroke-width="1"/>
<line x1="543.5" y1="140.8" x2="543.5" y2="150.3" stroke="#a88282" stroke-width="1"/>
<rect x="542" y="128.4" width="3" height="12.4" fill="#fffafa" stroke="#b08282" stroke-width="1"/>
<line x1="549.5" y1="114.6" x2="549.5" y2="115.9" stroke="#a88282" stroke-width="1"/>
<line x1="549.5" y1="127.4" x2="549.5" y2="135.6" stroke="#a88282" stroke-width="1"/>
<rect x="548" y="115.9" width="3" height="11.5" fill="#fffafa" stroke="#b08282" stroke-width="1"/>
<line x1="555.5" y1="114.2" x2="555.5" y2="124.5" stroke="#6a9a6a" stroke-width="1"/>
<rect x="553.5" y="116.5" width="4" height="4.5" fill="#64a464"/>
<line x1="561.5" y1="114.6" x2="561.5" y2="115.9" stroke="#a88282" stroke-width="1"/>
<line x1="561.5" y1="121.6" x2="561.5" y2="122.8" stroke="#a88282" stroke-width="1"/>
<rect x="560" y="115.9" width="3" height="5.7" fill="#fffafa" stroke="#b08282" stroke-width="1"/>
<line x1="567.5" y1="103.3" x2="567.5" y2="105.2" stroke="#a88282" stroke-width="1"/>
<line x1="567.5" y1="117.8" x2="567.5" y2="118.4" stroke="#a88282" stroke-width="1"/>
<rect x="566" y="105.2" width="3" height="12.6" fill="#fffafa" stroke="#b08282" stroke-width="1"/>
<line x1="573.5" y1="103.3" x2="573.5" y2="112.1" stroke="#6a9a6a" stroke-width="1"/>
<rect x="571.5" y="106.4" width="4" height="3.2" fill="#64a464"/>
<line x1="579.5" y1="103.3" x2="579.5" y2="119.0" stroke="#6a9a6a" stroke-width="1"/>
<rect x="577.5" y="110.2" width="4" height="2.5" fill="#64a464"/>
<line x1="585.5" y1="105.8" x2="585.5" y2="111.0" stroke="#a88282" stroke-width="1"/>
<line x1="585.5" y1="112.0" x2="585.5" y2="124.7" stroke="#a88282" stroke-width="1"/>
<rect x="584" y="111.0" width="3" height="1.0" fill="#fffafa" stroke="#b08282" stroke-width="1"/>
<line x1="591.5" y1="98.2" x2="591.5" y2="124.7" stroke="#6a9a6a" stroke-width="1"/>
<rect x="589.5" y="114.0" width="4" height="3.2" fill="#64a464"/>
<line x1="597.5" y1="115.9" x2="597.5" y2="129.1" stroke="#6a9a6a" stroke-width="1"/>
<rect x="595.5" y="118.4" width="4" height="6.4" fill="#64a464"/>
<line x1="603.5" y1="119.7" x2="603.5" y2="137.2" stroke="#6a9a6a" stroke-width="1"/>
<rect x="601.5" y="122.8" width="4" height="1.7" fill="#64a464"/>
<line x1="609.5" y1="115.9" x2="609.5" y2="153.4" stroke="#6a9a6a" stroke-width="1"/>
<rect x="607.5" y="125.2" width="4" height="21.9" fill="#64a464"/>
<line x1="615.5" y1="143.3" x2="615.5" y2="144.8" stroke="#a88282" stroke-width="1"/>
<line x1="615.5" y1="145.6" x2="615.5" y2="154.7" stroke="#a88282" stroke-width="1"/>
<rect x="614" y="144.8" width="3" height="1.0" fill="#fffafa" stroke="#b08282" stroke-width="1"/>
<line x1="621.5" y1="137.7" x2="621.5" y2="142.0" stroke="#a88282" stroke-width="1"/>
<line x1="621.5" y1="144.2" x2="621.5" y2="144.6" stroke="#a88282" stroke-width="1"/>
<rect x="620" y="142.0" width="3" height="2.2" fill="#fffafa" stroke="#b08282" stroke-width="1"/>
<line x1="627.5" y1="141.4" x2="627.5" y2="173.0" stroke="#6a9a6a" stroke-width="1"/>
<rect x="625.5" y="144.0" width="4" height="17.6" fill="#64a464"/>
<line x1="633.5" y1="151.5" x2="633.5" y2="162.8" stroke="#a88282" stroke-width="1"/>
<line x1="633.5" y1="163.8" x2="633.5" y2="168.0" stroke="#a88282" stroke-width="1"/>
<rect x="632" y="162.8" width="3" height="1.0" fill="#fffafa" stroke="#b08282" stroke-width="1"/>
<line x1="639.5" y1="145.2" x2="639.5" y2="149.6" stroke="#a88282" stroke-width="1"/>
<line x1="639.5" y1="161.0" x2="639.5" y2="164.1" stroke="#a88282" stroke-width="1"/>
<rect x="638" y="149.6" width="3" height="11.4" fill="#fffafa" stroke="#b08282" stroke-width="1"/>
<line x1="645.5" y1="137.7" x2="645.5" y2="140.8" stroke="#a88282" stroke-width="1"/>
<line x1="645.5" y1="153.4" x2="645.5" y2="155.3" stroke="#a88282" stroke-width="1"/>
<rect x="644" y="140.8" width="3" height="12.6" fill="#fffafa" stroke="#b08282" stroke-width="1"/>
<line x1="651.5" y1="127.3" x2="651.5" y2="128.8" stroke="#a88282" stroke-width="1"/>
<line x1="651.5" y1="138.3" x2="651.5" y2="138.9" stroke="#a88282" stroke-width="1"/>
<rect x="650" y="128.8" width="3" height="9.5" fill="#fffafa" stroke="#b08282" stroke-width="1"/>
<line x1="657.5" y1="118.4" x2="657.5" y2="140.0" stroke="#6a9a6a" stroke-width="1"/>
<rect x="655.5" y="129.5" width="4" height="9.4" fill="#64a464"/>
<line x1="663.5" y1="134.5" x2="663.5" y2="143.3" stroke="#6a9a6a" stroke-width="1"/>
<rect x="661.5" y="137.7" width="4" height="4.3" fill="#64a464"/>
<line x1="669.5" y1="152.0" x2="669.5" y2="156.4" stroke="#a88282" stroke-width="1"/>
<line x1="669.5" y1="162.7" x2="669.5" y2="168.7" stroke="#a88282" stroke-width="1"/>
<rect x="668" y="156.4" width="3" height="6.3" fill="#fffafa" stroke="#b08282" stroke-width="1"/>
<line x1="675.5" y1="145.8" x2="675.5" y2="147.1" stroke="#a88282" stroke-width="1"/>
<line x1="675.5" y1="156.5" x2="675.5" y2="158.5" stroke="#a88282" stroke-width="1"/>
<rect x="674" y="147.1" width="3" height="9.4" fill="#fffafa" stroke="#b08282" stroke-width="1"/>
<line x1="681.5" y1="142.0" x2="681.5" y2="197.0" stroke="#6a9a6a" stroke-width="1"/>
<rect x="679.5" y="147.7" width="4" height="35.5" fill="#64a464"/>
<line x1="687.5" y1="179.0" x2="687.5" y2="208.2" stroke="#6a9a6a" stroke-width="1"/>
<rect x="685.5" y="183.0" width="4" height="20.1" fill="#64a464"/>
<line x1="693.5" y1="177.2" x2="693.5" y2="186.6" stroke="#a88282" stroke-width="1"/>
<line x1="693.5" y1="203.7" x2="693.5" y2="208.8" stroke="#a88282" stroke-width="1"/>
<rect x="692" y="186.6" width="3" height="17.1" fill="#fffafa" stroke="#b08282" stroke-width="1"/>
<line x1="699.5" y1="172.0" x2="699.5" y2="174.6" stroke="#a88282" stroke-width="1"/>
<line x1="699.5" y1="184.0" x2="699.5" y2="186.6" stroke="#a88282" stroke-width="1"/>
<rect x="698" y="174.6" width="3" height="9.4" fill="#fffafa" stroke="#b08282" stroke-width="1"/>
<line x1="705.5" y1="170.8" x2="705.5" y2="186.6" stroke="#6a9a6a" stroke-width="1"/>
<rect x="703.5" y="174.6" width="4" height="1.9" fill="#64a464"/>
<line x1="711.5" y1="175.9" x2="711.5" y2="180.9" stroke="#6a9a6a" stroke-width="1"/>
<rect x="709.5" y="177.8" width="4" height="1.0" fill="#64a464"/>
<path d="M81.5,233.2 L87.5,232.4 L93.5,232.1 L99.5,231.1 L105.5,230.3 L111.5,228.2 L117.5,226.6 L123.5,225.8 L129.5,224.6 L135.5,223.6 L141.5,222.7 L147.5,217.0 L153.5,207.9 L159.5,201.1 L165.5,191.3 L171.5,180.3 L177.5,166.7 L183.5,159.3 L189.5,153.9 L195.5,147.2 L201.5,143.9 L207.5,147.6 L213.5,154.3 L219.5,155.7 L225.5,160.9 L231.5,165.7 L237.5,173.3 L243.5,171.2 L249.5,169.0 L255.5,167.2 L261.5,166.9 L267.5,162.9 L273.5,157.7 L279.5,158.2 L285.5,158.4 L291.5,160.3 L297.5,162.5 L303.5,169.0 L309.5,174.4 L315.5,180.2 L321.5,183.1 L327.5,184.7 L333.5,185.4 L339.5,183.0 L345.5,179.8 L351.5,179.5 L357.5,178.7 L363.5,175.8 L369.5,173.9 L375.5,173.9 L381.5,171.7 L387.5,171.6 L393.5,172.5 L399.5,174.9 L405.5,176.9 L411.5,177.8 L417.5,176.8 L423.5,175.9 L429.5,173.0 L435.5,171.9 L441.5,173.2 L447.5,172.2 L453.5,172.1 L459.5,169.9 L465.5,167.3 L471.5,164.7 L477.5,165.2 L483.5,165.0 L489.5,165.1 L495.5,161.8 L501.5,156.8 L507.5,153.9 L513.5,149.7 L519.5,146.6 L525.5,143.4 L531.5,141.9 L537.5,138.1 L543.5,135.4 L549.5,131.9 L555.5,129.2 L561.5,126.2 L567.5,122.3 L573.5,120.1 L579.5,118.8 L585.5,118.5 L591.5,116.6 L597.5,116.2 L603.5,115.8 L609.5,118.9 L615.5,121.3 L621.5,123.9 L627.5,129.5 L633.5,134.8 L639.5,138.5 L645.5,141.5 L651.5,142.7 L657.5,144.1 L663.5,145.8 L669.5,146.8 L675.5,147.0 L681.5,151.1 L687.5,155.3 L693.5,157.7 L699.5,160.2 L705.5,163.7 L711.5,168.7" fill="none" stroke="#2a2a36" stroke-width="1.1"/>
<path d="M81.5,229.9 L87.5,229.4 L93.5,229.8 L99.5,228.8 L105.5,227.7 L111.5,226.4 L117.5,224.4 L123.5,222.7 L129.5,221.0 L135.5,219.5 L141.5,219.0 L147.5,209.6 L153.5,193.2 L159.5,181.3 L165.5,163.1 L171.5,141.7 L177.5,123.9 L183.5,125.5 L189.5,126.5 L195.5,131.2 L201.5,146.2 L207.5,171.3 L213.5,183.1 L219.5,184.9 L225.5,190.5 L231.5,185.2 L237.5,175.3 L243.5,159.3 L249.5,153.1 L255.5,143.9 L261.5,148.5 L267.5,150.5 L273.5,156.0 L279.5,163.3 L285.5,172.9 L291.5,172.2 L297.5,174.4 L303.5,181.9 L309.5,185.4 L315.5,187.4 L321.5,194.1 L327.5,194.9 L333.5,188.9 L339.5,180.6 L345.5,172.2 L351.5,164.9 L357.5,162.5 L363.5,162.7 L369.5,167.3 L375.5,175.7 L381.5,178.5 L387.5,180.8 L393.5,182.2 L399.5,182.4 L405.5,178.2 L411.5,177.1 L417.5,172.9 L423.5,169.6 L429.5,163.7 L435.5,165.6 L441.5,169.3 L447.5,171.5 L453.5,174.5 L459.5,176.1 L465.5,169.1 L471.5,160.0 L477.5,158.9 L483.5,155.4 L489.5,154.1 L495.5,154.4 L501.5,153.6 L507.5,148.9 L513.5,144.0 L519.5,139.1 L525.5,132.3 L531.5,130.2 L537.5,127.3 L543.5,126.7 L549.5,124.7 L555.5,126.1 L561.5,122.1 L567.5,117.3 L573.5,113.5 L579.5,112.9 L585.5,110.9 L591.5,111.1 L597.5,115.1 L603.5,118.0 L609.5,124.9 L615.5,131.7 L621.5,136.6 L627.5,144.0 L633.5,151.7 L639.5,152.2 L645.5,151.4 L651.5,148.7 L657.5,144.2 L663.5,140.0 L669.5,141.4 L675.5,142.6 L681.5,153.5 L687.5,166.4 L693.5,175.3 L699.5,178.9 L705.5,184.8 L711.5,183.9" fill="none" stroke="#111" stroke-width="1.15"/>
<path d="M168.5,42.5 h6 M171.5,40 v5" stroke="#111" stroke-width="1.2"/>
<text x="175.5" y="39.6" font-size="10.5" font-weight="bold" fill="#a87272">139.13</text>
<path d="M102.5,243.4 h7" stroke="#222" stroke-width="1.4"/>
<text x="109" y="252.7" font-size="10.5" font-weight="bold" fill="#84b484">90.12</text>
<path d="M590,99.3 h5.5" stroke="#222" stroke-width="1.4"/>
<text x="596" y="97" font-size="11" font-weight="bold" fill="#b36a6a">125.19</text>
<path d="M692,208.8 h5.5" stroke="#222" stroke-width="1.4"/>
<text x="698" y="218.8" font-size="11" fill="#79aa79">98.49</text>
<g stroke="#704848" stroke-width="1" fill="none">
<line x1="29.2" y1="301.5" x2="31.0" y2="301.5"/>
<line x1="28.0" y1="304.5" x2="29.2" y2="305.7"/>
<line x1="25.0" y1="305.7" x2="25.0" y2="307.5"/>
<line x1="22.0" y1="304.5" x2="20.8" y2="305.7"/>
<line x1="20.8" y1="301.5" x2="19.0" y2="301.5"/>
<line x1="22.0" y1="298.5" x2="20.8" y2="297.3"/>
<line x1="25.0" y1="297.3" x2="25.0" y2="295.5"/>
<line x1="28.0" y1="298.5" x2="29.2" y2="297.3"/>
<circle cx="25" cy="301.5" r="2.6"/></g>
<circle cx="25" cy="301.5" r="1.2" fill="#a02020"/>
<text x="79.7" y="308.3" font-size="10.5" fill="#222">MACD(26,12,9)</text>
<text x="156.3" y="308.3" font-size="10.5" fill="#222">DIFF:-2.78</text>
<text x="212.3" y="308.3" font-size="10.5" fill="#3a4070">DEA:-1.84</text>
<text x="267.4" y="308.3" font-size="10.5" fill="#d080d4">MACD:-1.87</text>
<line x1="81.5" y1="374.0" x2="81.5" y2="376.8" stroke="#c6a2a2" stroke-width="1"/>
<line x1="87.5" y1="376.0" x2="87.5" y2="376.8" stroke="#c6a2a2" stroke-width="1"/>
<line x1="93.5" y1="376.8" x2="93.5" y2="379.1" stroke="#9db29d" stroke-width="1"/>
<line x1="99.5" y1="376.8" x2="99.5" y2="379.7" stroke="#9db29d" stroke-width="1"/>
<line x1="105.5" y1="376.8" x2="105.5" y2="381.0" stroke="#9db29d" stroke-width="1"/>
<line x1="111.5" y1="376.0" x2="111.5" y2="376.8" stroke="#c6a2a2" stroke-width="1"/>
<line x1="117.5" y1="376.2" x2="117.5" y2="377.0" stroke="#c6a2a2" stroke-width="1"/>
<line x1="123.5" y1="376.0" x2="123.5" y2="376.8" stroke="#c6a2a2" stroke-width="1"/>
<line x1="129.5" y1="376.8" x2="129.5" y2="378.0" stroke="#9db29d" stroke-width="1"/>
<line x1="135.5" y1="376.8" x2="135.5" y2="379.7" stroke="#9db29d" stroke-width="1"/>
<line x1="141.5" y1="376.0" x2="141.5" y2="376.8" stroke="#c6a2a2" stroke-width="1"/>
<line x1="147.5" y1="367.1" x2="147.5" y2="376.8" stroke="#c6a2a2" stroke-width="1"/>
<line x1="153.5" y1="355.8" x2="153.5" y2="376.8" stroke="#c6a2a2" stroke-width="1"/>
<line x1="159.5" y1="353.3" x2="159.5" y2="376.8" stroke="#c6a2a2" stroke-width="1"/>
<line x1="165.5" y1="348.6" x2="165.5" y2="376.8" stroke="#c6a2a2" stroke-width="1"/>
<line x1="171.5" y1="339.0" x2="171.5" y2="376.8" stroke="#c6a2a2" stroke-width="1"/>
<line x1="177.5" y1="332.0" x2="177.5" y2="376.8" stroke="#c6a2a2" stroke-width="1"/>
<line x1="183.5" y1="346.0" x2="183.5" y2="376.8" stroke="#c6a2a2" stroke-width="1"/>
<line x1="189.5" y1="360.5" x2="189.5" y2="376.8" stroke="#c6a2a2" stroke-width="1"/>
<line x1="195.5" y1="369.0" x2="195.5" y2="376.8" stroke="#c6a2a2" stroke-width="1"/>
<line x1="201.5" y1="376.8" x2="201.5" y2="381.5" stroke="#9db29d" stroke-width="1"/>
<line x1="207.5" y1="376.8" x2="207.5" y2="396.0" stroke="#9db29d" stroke-width="1"/>
<line x1="213.5" y1="376.8" x2="213.5" y2="404.8" stroke="#9db29d" stroke-width="1"/>
<line x1="219.5" y1="376.8" x2="219.5" y2="402.9" stroke="#9db29d" stroke-width="1"/>
<line x1="225.5" y1="376.8" x2="225.5" y2="402.9" stroke="#9db29d" stroke-width="1"/>
<line x1="231.5" y1="376.8" x2="231.5" y2="394.7" stroke="#9db29d" stroke-width="1"/>
<line x1="237.5" y1="376.8" x2="237.5" y2="390.1" stroke="#9db29d" stroke-width="1"/>
<line x1="243.5" y1="376.8" x2="243.5" y2="382.1" stroke="#9db29d" stroke-width="1"/>
<line x1="249.5" y1="376.8" x2="249.5" y2="380.0" stroke="#9db29d" stroke-width="1"/>
<line x1="255.5" y1="374.9" x2="255.5" y2="376.8" stroke="#c6a2a2" stroke-width="1"/>
<line x1="261.5" y1="376.8" x2="261.5" y2="384.3" stroke="#9db29d" stroke-width="1"/>
<line x1="267.5" y1="376.8" x2="267.5" y2="387.5" stroke="#9db29d" stroke-width="1"/>
<line x1="273.5" y1="376.8" x2="273.5" y2="387.5" stroke="#9db29d" stroke-width="1"/>
<line x1="279.5" y1="376.8" x2="279.5" y2="391.5" stroke="#9db29d" stroke-width="1"/>
<line x1="285.5" y1="376.8" x2="285.5" y2="396.5" stroke="#9db29d" stroke-width="1"/>
<line x1="291.5" y1="376.8" x2="291.5" y2="394.7" stroke="#9db29d" stroke-width="1"/>
<line x1="297.5" y1="376.8" x2="297.5" y2="395.9" stroke="#9db29d" stroke-width="1"/>
<line x1="303.5" y1="376.8" x2="303.5" y2="399.0" stroke="#9db29d" stroke-width="1"/>
<line x1="309.5" y1="376.8" x2="309.5" y2="400.4" stroke="#9db29d" stroke-width="1"/>
<line x1="315.5" y1="376.8" x2="315.5" y2="399.7" stroke="#9db29d" stroke-width="1"/>
<line x1="321.5" y1="376.8" x2="321.5" y2="400.4" stroke="#9db29d" stroke-width="1"/>
<line x1="327.5" y1="376.8" x2="327.5" y2="395.3" stroke="#9db29d" stroke-width="1"/>
<line x1="333.5" y1="376.8" x2="333.5" y2="387.1" stroke="#9db29d" stroke-width="1"/>
<line x1="339.5" y1="376.8" x2="339.5" y2="378.9" stroke="#9db29d" stroke-width="1"/>
<line x1="345.5" y1="376.8" x2="345.5" y2="378.0" stroke="#9db29d" stroke-width="1"/>
<line x1="351.5" y1="376.8" x2="351.5" y2="378.0" stroke="#9db29d" stroke-width="1"/>
<line x1="357.5" y1="376.8" x2="357.5" y2="378.0" stroke="#9db29d" stroke-width="1"/>
<line x1="363.5" y1="376.8" x2="363.5" y2="378.0" stroke="#9db29d" stroke-width="1"/>
<line x1="369.5" y1="376.8" x2="369.5" y2="378.0" stroke="#9db29d" stroke-width="1"/>
<line x1="375.5" y1="376.8" x2="375.5" y2="382.7" stroke="#9db29d" stroke-width="1"/>
<line x1="381.5" y1="376.8" x2="381.5" y2="383.0" stroke="#9db29d" stroke-width="1"/>
<line x1="387.5" y1="376.8" x2="387.5" y2="382.8" stroke="#9db29d" stroke-width="1"/>
<line x1="393.5" y1="376.8" x2="393.5" y2="380.3" stroke="#9db29d" stroke-width="1"/>
<line x1="399.5" y1="376.8" x2="399.5" y2="379.0" stroke="#9db29d" stroke-width="1"/>
<line x1="405.5" y1="376.8" x2="405.5" y2="377.8" stroke="#9db29d" stroke-width="1"/>
<line x1="411.5" y1="376.8" x2="411.5" y2="378.4" stroke="#9db29d" stroke-width="1"/>
<line x1="417.5" y1="374.6" x2="417.5" y2="376.8" stroke="#c6a2a2" stroke-width="1"/>
<line x1="423.5" y1="370.9" x2="423.5" y2="376.8" stroke="#c6a2a2" stroke-width="1"/>
<line x1="429.5" y1="367.1" x2="429.5" y2="376.8" stroke="#c6a2a2" stroke-width="1"/>
<line x1="435.5" y1="372.1" x2="435.5" y2="376.8" stroke="#c6a2a2" stroke-width="1"/>
<line x1="441.5" y1="376.8" x2="441.5" y2="380.9" stroke="#9db29d" stroke-width="1"/>
<line x1="447.5" y1="376.8" x2="447.5" y2="380.3" stroke="#9db29d" stroke-width="1"/>
<line x1="453.5" y1="376.8" x2="453.5" y2="379.7" stroke="#9db29d" stroke-width="1"/>
<line x1="459.5" y1="374.0" x2="459.5" y2="376.8" stroke="#c6a2a2" stroke-width="1"/>
<line x1="465.5" y1="371.5" x2="465.5" y2="376.8" stroke="#c6a2a2" stroke-width="1"/>
<line x1="471.5" y1="369.0" x2="471.5" y2="376.8" stroke="#c6a2a2" stroke-width="1"/>
<line x1="477.5" y1="371.5" x2="477.5" y2="376.8" stroke="#c6a2a2" stroke-width="1"/>
<line x1="483.5" y1="371.5" x2="483.5" y2="376.8" stroke="#c6a2a2" stroke-width="1"/>
<line x1="489.5" y1="370.3" x2="489.5" y2="376.8" stroke="#c6a2a2" stroke-width="1"/>
<line x1="495.5" y1="369.6" x2="495.5" y2="376.8" stroke="#c6a2a2" stroke-width="1"/>
<line x1="501.5" y1="368.4" x2="501.5" y2="376.8" stroke="#c6a2a2" stroke-width="1"/>
<line x1="507.5" y1="368.4" x2="507.5" y2="376.8" stroke="#c6a2a2" stroke-width="1"/>
<line x1="513.5" y1="366.5" x2="513.5" y2="376.8" stroke="#c6a2a2" stroke-width="1"/>
<line x1="519.5" y1="365.2" x2="519.5" y2="376.8" stroke="#c6a2a2" stroke-width="1"/>
<line x1="525.5" y1="362.7" x2="525.5" y2="376.8" stroke="#c6a2a2" stroke-width="1"/>
<line x1="531.5" y1="365.2" x2="531.5" y2="376.8" stroke="#c6a2a2" stroke-width="1"/>
<line x1="537.5" y1="369.6" x2="537.5" y2="376.8" stroke="#c6a2a2" stroke-width="1"/>
<line x1="543.5" y1="370.9" x2="543.5" y2="376.8" stroke="#c6a2a2" stroke-width="1"/>
<line x1="549.5" y1="369.0" x2="549.5" y2="376.8" stroke="#c6a2a2" stroke-width="1"/>
<line x1="555.5" y1="370.3" x2="555.5" y2="376.8" stroke="#c6a2a2" stroke-width="1"/>
<line x1="561.5" y1="369.6" x2="561.5" y2="376.8" stroke="#c6a2a2" stroke-width="1"/>
<line x1="567.5" y1="368.4" x2="567.5" y2="376.8" stroke="#c6a2a2" stroke-width="1"/>
<line x1="573.5" y1="369.0" x2="573.5" y2="376.8" stroke="#c6a2a2" stroke-width="1"/>
<line x1="579.5" y1="370.9" x2="579.5" y2="376.8" stroke="#c6a2a2" stroke-width="1"/>
<line x1="585.5" y1="372.2" x2="585.5" y2="376.8" stroke="#c6a2a2" stroke-width="1"/>
<line x1="591.5" y1="375.5" x2="591.5" y2="376.8" stroke="#c6a2a2" stroke-width="1"/>
<line x1="597.5" y1="376.8" x2="597.5" y2="380.3" stroke="#9db29d" stroke-width="1"/>
<line x1="603.5" y1="376.8" x2="603.5" y2="383.5" stroke="#9db29d" stroke-width="1"/>
<line x1="609.5" y1="376.8" x2="609.5" y2="389.8" stroke="#9db29d" stroke-width="1"/>
<line x1="615.5" y1="376.8" x2="615.5" y2="393.0" stroke="#9db29d" stroke-width="1"/>
<line x1="621.5" y1="376.8" x2="621.5" y2="394.2" stroke="#9db29d" stroke-width="1"/>
<line x1="627.5" y1="376.8" x2="627.5" y2="399.1" stroke="#9db29d" stroke-width="1"/>
<line x1="633.5" y1="376.8" x2="633.5" y2="401.2" stroke="#9db29d" stroke-width="1"/>
<line x1="639.5" y1="376.8" x2="639.5" y2="399.1" stroke="#9db29d" stroke-width="1"/>
<line x1="645.5" y1="376.8" x2="645.5" y2="393.1" stroke="#9db29d" stroke-width="1"/>
<line x1="651.5" y1="376.8" x2="651.5" y2="387.4" stroke="#9db29d" stroke-width="1"/>
<line x1="657.5" y1="376.8" x2="657.5" y2="384.5" stroke="#9db29d" stroke-width="1"/>
<line x1="663.5" y1="376.8" x2="663.5" y2="383.7" stroke="#9db29d" stroke-width="1"/>
<line x1="669.5" y1="376.8" x2="669.5" y2="386.5" stroke="#9db29d" stroke-width="1"/>
<line x1="675.5" y1="376.8" x2="675.5" y2="385.4" stroke="#9db29d" stroke-width="1"/>
<line x1="681.5" y1="376.8" x2="681.5" y2="392.8" stroke="#9db29d" stroke-width="1"/>
<line x1="687.5" y1="376.8" x2="687.5" y2="400.3" stroke="#9db29d" stroke-width="1"/>
<line x1="693.5" y1="376.8" x2="693.5" y2="403.0" stroke="#9db29d" stroke-width="1"/>
<line x1="699.5" y1="376.8" x2="699.5" y2="394.0" stroke="#9db29d" stroke-width="1"/>
<line x1="705.5" y1="376.8" x2="705.5" y2="392.8" stroke="#9db29d" stroke-width="1"/>
<line x1="711.5" y1="376.8" x2="711.5" y2="390.5" stroke="#9db29d" stroke-width="1"/>
<path d="M81.0,355.8 L100.0,358.0 L137.0,358.4 L147.0,356.5 L165.0,348.4 L185.0,333.2 L195.0,330.7 L200.0,330.7 L213.0,337.0 L227.0,343.9 L245.0,347.1 L265.0,348.3 L280.0,350.2 L290.0,356.5 L302.7,361.6 L315.3,367.9 L326.6,372.3 L345.0,373.5 L362.0,372.0 L375.0,373.5 L387.0,375.8 L410.0,377.0 L429.0,373.3 L445.0,374.2 L460.0,374.0 L467.0,373.4 L500.0,369.6 L526.0,363.3 L545.0,360.2 L567.0,355.8 L575.0,354.5 L595.0,352.6 L610.0,354.5 L625.0,358.9 L640.0,367.0 L647.0,371.0 L657.0,372.8 L667.0,373.9 L677.0,375.6 L690.0,379.6 L700.0,383.7 L711.0,389.6" fill="none" stroke="#333" stroke-width="1.1"/>
<path d="M81.0,355.8 L90.0,356.5 L100.0,358.0 L120.0,358.3 L137.0,358.4 L142.0,358.0 L147.0,352.0 L153.0,343.3 L160.0,339.5 L165.0,333.0 L177.0,315.3 L189.0,322.5 L197.0,326.9 L200.0,330.0 L207.0,341.0 L213.0,350.9 L225.0,354.7 L237.0,354.0 L242.0,352.1 L245.0,349.6 L255.5,347.4 L265.0,352.1 L275.0,354.6 L285.0,359.0 L290.0,364.1 L300.0,366.0 L310.0,371.0 L318.0,377.0 L323.0,381.0 L330.0,381.5 L340.0,377.0 L350.0,372.5 L365.0,373.0 L375.0,372.5 L385.0,376.0 L395.0,377.0 L410.0,377.0 L420.0,373.0 L429.0,368.3 L440.0,375.0 L460.0,375.0 L470.0,368.3 L485.0,368.4 L505.0,365.2 L526.0,355.1 L535.0,357.0 L545.0,357.0 L557.0,353.9 L573.0,351.3 L590.0,352.6 L600.0,353.9 L615.0,360.2 L625.0,365.2 L635.0,369.6 L643.0,375.3 L650.0,379.0 L657.0,377.6 L667.0,377.9 L675.0,379.6 L683.0,380.2 L690.0,384.8 L700.0,392.8 L705.0,395.1 L711.0,396.6" fill="none" stroke="#222" stroke-width="1.1"/>
<rect x="17.5" y="405.5" width="59" height="16.5" fill="#fff" stroke="#e0e0e0" stroke-width="1"/>
<text x="28.8" y="418.6" font-size="11" font-weight="bold" fill="#d48c38" font-family='"Liberation Sans", "Noto Sans CJK SC", sans-serif'>日线</text>
<polygon points="55.7,417.6 62.3,417.6 59,412.6" fill="#e0963a"/>
<text x="149" y="416.3" font-size="10.5" font-weight="bold" fill="#333">2022/03</text>
<line x1="147.5" y1="405.5" x2="147.5" y2="409" stroke="#c4c4c4" stroke-width="1"/>
<text x="287" y="416.3" font-size="10.5" font-weight="bold" fill="#333">2022/04</text>
<line x1="285.5" y1="405.5" x2="285.5" y2="409" stroke="#c4c4c4" stroke-width="1"/>
<text x="538" y="416.3" font-size="10.5" font-weight="bold" fill="#333">2022/06</text>
<line x1="536.5" y1="405.5" x2="536.5" y2="409" stroke="#c4c4c4" stroke-width="1"/>
<text x="672" y="416.3" font-size="10.5" font-weight="bold" fill="#333">2022/07</text>
<line x1="670.5" y1="405.5" x2="670.5" y2="409" stroke="#c4c4c4" stroke-width="1"/>
<rect x="390" y="406" width="98" height="15" fill="#fffdf0"/>
<text x="394" y="417" font-size="11" fill="#c8a868" font-family='"Liberation Sans", "Noto Sans CJK SC", sans-serif'>2022/04/28 星期四</text>
<line x1="17" y1="422" x2="800" y2="422" stroke="#d8d8d8" stroke-width="1"/>
<rect x="17" y="422" width="34" height="14" fill="#1a76cc"/>
<line x1="51" y1="422" x2="51" y2="436" stroke="#d8d8d8" stroke-width="1"/>
<text x="34.0" y="434.5" font-size="11" fill="#e8f4ff" text-anchor="middle" font-family='"Liberation Sans", "Noto Sans CJK SC", sans-serif'>指标</text>
<line x1="85.5" y1="422" x2="85.5" y2="436" stroke="#d8d8d8" stroke-width="1"/>
<text x="68.2" y="434.5" font-size="11" fill="#222" text-anchor="middle" font-family='"Liberation Sans", "Noto Sans CJK SC", sans-serif'>模板</text>
<rect x="85.5" y="422.5" width="50.0" height="14" fill="#fffef4"/>
<line x1="135.5" y1="422" x2="135.5" y2="436" stroke="#d8d8d8" stroke-width="1"/>
<text x="110.5" y="434.5" font-size="10" fill="#c8a048" text-anchor="middle" font-family='"Liberation Sans", "Noto Sans CJK SC", sans-serif'>VIP指标</text>
<line x1="160" y1="422" x2="160" y2="436" stroke="#d8d8d8" stroke-width="1"/>
<text x="147.8" y="434.5" font-size="9.6" fill="#222" text-anchor="middle" font-family='"Liberation Mono", "Noto Sans CJK SC", monospace'>MA</text>
<line x1="194" y1="422" x2="194" y2="436" stroke="#d8d8d8" stroke-width="1"/>
<text x="177.0" y="434.5" font-size="9.6" fill="#222" text-anchor="middle" font-family='"Liberation Mono", "Noto Sans CJK SC", monospace'>MACD</text>
<line x1="228" y1="422" x2="228" y2="436" stroke="#d8d8d8" stroke-width="1"/>
<text x="211.0" y="434.5" font-size="9.6" fill="#222" text-anchor="middle" font-family='"Liberation Mono", "Noto Sans CJK SC", monospace'>BOLL</text>
<line x1="257" y1="422" x2="257" y2="436" stroke="#d8d8d8" stroke-width="1"/>
<text x="242.5" y="434.5" font-size="9.6" fill="#222" text-anchor="middle" font-family='"Liberation Mono", "Noto Sans CJK SC", monospace'>VOL</text>
<line x1="291" y1="422" x2="291" y2="436" stroke="#d8d8d8" stroke-width="1"/>
<text x="274.0" y="434.5" font-size="9.6" fill="#222" text-anchor="middle" font-family='"Liberation Mono", "Noto Sans CJK SC", monospace'>BIAS</text>
<line x1="320.5" y1="422" x2="320.5" y2="436" stroke="#d8d8d8" stroke-width="1"/>
<text x="305.8" y="434.5" font-size="9.6" fill="#222" text-anchor="middle" font-family='"Liberation Mono", "Noto Sans CJK SC", monospace'>CCI</text>
<line x1="350" y1="422" x2="350" y2="436" stroke="#d8d8d8" stroke-width="1"/>
<text x="335.2" y="434.5" font-size="9.6" fill="#222" text-anchor="middle" font-family='"Liberation Mono", "Noto Sans CJK SC", monospace'>KDJ</text>
<line x1="384" y1="422" x2="384" y2="436" stroke="#d8d8d8" stroke-width="1"/>
<text x="367.0" y="434.5" font-size="9.6" fill="#222" text-anchor="middle" font-family='"Liberation Mono", "Noto Sans CJK SC", monospace'>LW&amp;</text>
<line x1="413" y1="422" x2="413" y2="436" stroke="#d8d8d8" stroke-width="1"/>
<text x="398.5" y="434.5" font-size="9.6" fill="#222" text-anchor="middle" font-family='"Liberation Mono", "Noto Sans CJK SC", monospace'>RSI</text>
<line x1="437" y1="422" x2="437" y2="436" stroke="#d8d8d8" stroke-width="1"/>
<text x="425.0" y="434.5" font-size="9.6" fill="#222" text-anchor="middle" font-family='"Liberation Mono", "Noto Sans CJK SC", monospace'>CR</text>
<line x1="466" y1="422" x2="466" y2="436" stroke="#d8d8d8" stroke-width="1"/>
<text x="451.5" y="434.5" font-size="9.6" fill="#222" text-anchor="middle" font-family='"Liberation Mono", "Noto Sans CJK SC", monospace'>PSY</text>
<line x1="500.5" y1="422" x2="500.5" y2="436" stroke="#d8d8d8" stroke-width="1"/>
<text x="483.2" y="434.5" font-size="11" fill="#222" text-anchor="middle" font-family='"Liberation Sans", "Noto Sans CJK SC", sans-serif'>设置</text>
<text x="688.2 709.2 727.7 741.7 760.5" y="414.7" font-size="25" fill="#e9ecf0" stroke="#bcc0c9" stroke-width="1.1" font-family='"Liberation Sans", sans-serif'>FX678</text>
</svg></body></html>
